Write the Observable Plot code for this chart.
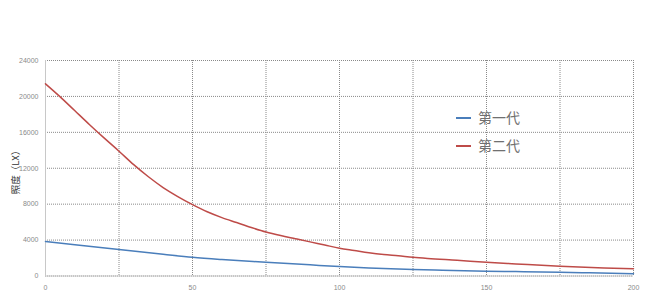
<!DOCTYPE html>
<html>
<head>
<meta charset="utf-8">
<script src="https://cdn.jsdelivr.net/npm/d3@7"></script>
<script src="https://cdn.jsdelivr.net/npm/@observablehq/plot@0.6"></script>
<style>
  html, body { margin: 0; padding: 0; background: #fff; }
  #wrap { position: relative; width: 647px; height: 302px; overflow: hidden; }
  .leg { position: absolute; font-family: "Noto Sans CJK SC", sans-serif; font-size: 14px; color: #707070; line-height: 16px; }
  .leg span.sw { display: inline-block; width: 15px; height: 2px; vertical-align: middle; margin-right: 7px; position: relative; top: -1px; }
  .ylab { position: absolute; font-family: "Noto Sans CJK SC", sans-serif; font-size: 9.5px; color: #333; transform: rotate(-90deg); transform-origin: center; white-space: nowrap; }
</style>
</head>
<body>
<div id="wrap"></div>
<script>
// Series names
const seriesNames = ["第一代", "第二代"];
// x positions (distance) and illuminance values (LX)
const gen1X = [0, 10, 25, 40, 50, 60, 75, 90, 100, 110, 125, 135, 150, 160, 175, 185, 200];
const gen1Y = [3850, 3480, 2940, 2420, 2080, 1830, 1530, 1240, 1050, 900, 720, 640, 530, 490, 420, 350, 240];
const gen2X = [0, 5, 10, 15, 20, 25, 30, 35, 40, 45, 50, 55, 60, 65, 70, 75, 80, 85, 90, 95, 100, 105, 110, 115, 120, 125, 130, 140, 150, 160, 175, 190, 200];
const gen2Y = [21400, 19950, 18400, 16850, 15350, 13900, 12400, 11050, 9850, 8850, 7950, 7150, 6500, 5950, 5400, 4900, 4500, 4150, 3800, 3450, 3100, 2850, 2600, 2400, 2250, 2080, 1950, 1750, 1530, 1350, 1090, 900, 800];
// tick labels
const xTicks = [0, 50, 100, 150, 200];
const xGrid = [0, 25, 50, 75, 100, 125, 150, 175, 200];
const yTicks = [0, 4000, 8000, 12000, 16000, 20000, 24000];
const yLabel = "照度（LX）";
const colors = ["#4a7ebb", "#be4b48"];

const data = [
  ...gen1X.map((x, i) => ({x, y: gen1Y[i], s: seriesNames[0]})),
  ...gen2X.map((x, i) => ({x, y: gen2Y[i], s: seriesNames[1]}))
];

const chart = Plot.plot({
  width: 647,
  height: 302,
  marginLeft: 45,
  marginRight: 14,
  marginTop: 60,
  marginBottom: 26.5,
  style: {fontFamily: "Liberation Sans, sans-serif", fontSize: "7px", color: "#8a8a8a", background: "#fff"},
  x: {domain: [0, 200]},
  y: {domain: [0, 24000]},
  color: {domain: seriesNames, range: colors},
  marks: [
    Plot.gridX(xGrid, {stroke: "#8a8a8a", strokeOpacity: 1, strokeDasharray: "1,1", strokeWidth: 1}),
    Plot.gridY(yTicks, {stroke: "#8a8a8a", strokeOpacity: 1, strokeDasharray: "1,1", strokeWidth: 1}),
    Plot.ruleX([0], {stroke: "#c8c8c8"}),
    Plot.ruleY([0], {stroke: "#c8c8c8"}),
    Plot.axisX(xTicks, {tickSize: 0, tickPadding: 9, label: null, fill: "#8a8a8a"}),
    Plot.axisY(yTicks, {tickSize: 0, tickPadding: 7, label: null, fill: "#8a8a8a", tickFormat: d => String(d)}),
    Plot.line(data, {x: "x", y: "y", z: "s", stroke: "s", strokeWidth: 1.5, curve: "monotone-x"})
  ]
});

const wrap = document.getElementById("wrap");
wrap.appendChild(chart);

// Legend overlay
seriesNames.forEach((name, i) => {
  const d = document.createElement("div");
  d.className = "leg";
  d.style.left = "456px";
  d.style.top = (109 + i * 28) + "px";
  d.innerHTML = `<span class="sw" style="background:${colors[i]}"></span>${name}`;
  wrap.appendChild(d);
});

// y-axis title
const yl = document.createElement("div");
yl.className = "ylab";
yl.textContent = yLabel;
wrap.appendChild(yl);
const w = yl.offsetWidth, h = yl.offsetHeight;
yl.style.left = (15 - w / 2) + "px";
yl.style.top = (170 - h / 2) + "px";
</script>
</body>
</html>
